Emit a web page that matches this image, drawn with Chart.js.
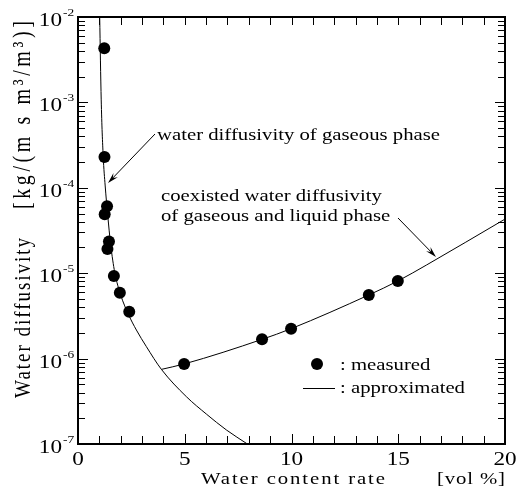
<!DOCTYPE html>
<html>
<head>
<meta charset="utf-8">
<script src="https://cdn.jsdelivr.net/npm/chart.js@4.4.1/dist/chart.umd.min.js"></script>
<style>
  html, body { margin: 0; padding: 0; background: #fff; }
  canvas { display: block; }
</style>
</head>
<body>
<canvas id="chart" width="517" height="495"></canvas>
<script>
// measured points
var measuredX = [1.23, 1.24, 1.36, 1.25, 1.45, 1.38, 1.68, 1.96, 2.40, 4.97, 8.62, 9.98, 13.62, 14.98];
var measuredY = [4.3e-3, 2.3e-4, 6.1e-5, 4.9e-5, 2.35e-5, 1.92e-5, 9.3e-6, 5.9e-6, 3.54e-6, 8.65e-7, 1.68e-6, 2.24e-6, 5.56e-6, 8.1e-6];

// approximated curve, water diffusivity of gaseous phase
var gasX = [1.016, 1.087, 1.18, 1.274, 1.391, 1.532, 1.719, 2.0, 2.375, 2.735, 3.204, 3.906, 5.077, 6.014, 6.951, 7.934];
var gasY = [1e-2, 1.07e-3, 2.35e-4, 1.05e-4, 4.81e-5, 2.14e-5, 1.03e-5, 5.56e-6, 3.24e-6, 2.16e-6, 1.38e-6, 7.48e-7, 3.58e-7, 2.24e-7, 1.46e-7, 1e-7];

// approximated curve, coexisted (gaseous + liquid)
var coexX = [3.91, 4.97, 8.62, 9.98, 13.62, 14.98, 16.33, 20];
var coexY = [7.48e-7, 8.65e-7, 1.68e-6, 2.24e-6, 5.56e-6, 8.1e-6, 1.25e-5, 4.3e-5];

var xTickLabels = [0, 5, 10, 15, 20];
var yDecades = [-7, -6, -5, -4, -3, -2];

var FONT = '"Liberation Serif", "Times New Roman", serif';
var SX = 1.22; // the figure's text is a bit wider than plain Times

function pts(xs, ys) {
  return xs.map(function(x, i){ return { x: x, y: ys[i] }; });
}

// draws text, stretched sideways; fitW spreads letters to a given length
function drawText(ctx, s, x, y, size, align, fitW, rotated) {
  ctx.save();
  ctx.font = size + 'px ' + FONT;
  ctx.fillStyle = '#000';
  ctx.textAlign = 'left';
  ctx.textBaseline = 'alphabetic';
  var sLen = rotated ? 1 : SX;
  var w0 = ctx.measureText(s).width;
  var ls = 0;
  if (fitW) ls = (fitW / sLen - w0) / Math.max(1, s.length - 1);
  var w = (w0 + ls * (s.length - 1)) * sLen;
  var off = align === 'center' ? -w / 2 : (align === 'right' ? -w : 0);
  ctx.translate(x, y);
  if (rotated) { ctx.rotate(-Math.PI / 2); ctx.scale(1, SX); }
  else ctx.scale(SX, 1);
  ctx.letterSpacing = ls + 'px';
  ctx.fillText(s, off / sLen, 0);
  ctx.restore();
}

function arrow(ctx, x1, y1, x2, y2) {
  var a = Math.atan2(y2 - y1, x2 - x1);
  var L = 11, W = 3;
  ctx.save();
  ctx.strokeStyle = '#000';
  ctx.fillStyle = '#000';
  ctx.lineWidth = 1;
  ctx.beginPath();
  ctx.moveTo(x1, y1);
  ctx.lineTo(x2 - Math.cos(a) * 6, y2 - Math.sin(a) * 6);
  ctx.stroke();
  ctx.beginPath();
  ctx.moveTo(x2, y2);
  ctx.lineTo(x2 - L * Math.cos(a) + W * Math.sin(a), y2 - L * Math.sin(a) - W * Math.cos(a));
  ctx.lineTo(x2 - 7 * Math.cos(a), y2 - 7 * Math.sin(a));
  ctx.lineTo(x2 - L * Math.cos(a) - W * Math.sin(a), y2 - L * Math.sin(a) + W * Math.cos(a));
  ctx.closePath();
  ctx.fill();
  ctx.restore();
}

var framePlugin = {
  id: 'frame',
  afterDraw: function(chart) {
    var ctx = chart.ctx;
    var a = chart.chartArea;
    var xs = chart.scales.x, ys = chart.scales.y;
    ctx.save();
    ctx.strokeStyle = '#000';
    ctx.lineWidth = 1;

    // x ticks, inside, top and bottom
    ctx.beginPath();
    for (var i = 1; i < 20; i++) {
      var px = Math.round(xs.getPixelForValue(i)) + 0.5;
      var len = (i % 5 === 0) ? 10 : 8;
      ctx.moveTo(px, a.bottom); ctx.lineTo(px, a.bottom - len);
      ctx.moveTo(px, a.top); ctx.lineTo(px, a.top + 8);
    }
    // y ticks, log, inside, left and right
    for (var d = -7; d <= -2; d++) {
      for (var m = 1; m <= 9; m++) {
        if (d === -2 && m > 1) break;
        var py = Math.round(ys.getPixelForValue(m * Math.pow(10, d))) + 0.5;
        var l = (m === 1) ? 10 : 7;
        ctx.moveTo(a.left, py); ctx.lineTo(a.left + l, py);
        ctx.moveTo(a.right, py); ctx.lineTo(a.right - l, py);
      }
    }
    ctx.stroke();

    // frame
    ctx.lineWidth = 2;
    ctx.strokeRect(a.left, a.top, a.right - a.left, a.bottom - a.top);
    ctx.restore();

    // tick labels
    xTickLabels.forEach(function(v){
      drawText(ctx, String(v), xs.getPixelForValue(v), a.bottom + 21, 19, 'center');
    });
    yDecades.forEach(function(d){
      var py = ys.getPixelForValue(Math.pow(10, d));
      drawText(ctx, '10', 62, py + 9, 19, 'right');
      drawText(ctx, '-' + (-d), 63, py - 1, 11, 'left');
    });

    // axis titles
    drawText(ctx, 'Water content rate', 201, 484, 17, 'left', 184);
    drawText(ctx, '[vol %]', 437, 484, 17, 'left', 68);
    drawText(ctx, 'Water diffusivity', 30, 398, 19, 'left', 160, true);
    drawText(ctx, '[kg/(m s m\u00b3/m\u00b3)]', 30, 209, 20, 'left', 188, true);

    // annotations
    drawText(ctx, 'water diffusivity of gaseous phase', 157, 140, 17, 'left');
    drawText(ctx, 'coexisted water diffusivity', 161, 201, 17, 'left');
    drawText(ctx, 'of gaseous and liquid phase', 161, 221, 17, 'left');
    arrow(ctx, 155, 134, 108, 183);
    arrow(ctx, 398, 218, 436, 257);

    // legend
    ctx.save();
    ctx.fillStyle = '#000';
    ctx.beginPath();
    ctx.arc(317, 364, 6, 0, Math.PI * 2);
    ctx.fill();
    ctx.strokeStyle = '#000';
    ctx.lineWidth = 1;
    ctx.beginPath();
    ctx.moveTo(303, 388.5); ctx.lineTo(335, 388.5);
    ctx.stroke();
    ctx.restore();
    drawText(ctx, ': measured', 340, 370, 17, 'left');
    drawText(ctx, ': approximated', 340, 393, 17, 'left');
  }
};

new Chart(document.getElementById('chart'), {
  type: 'scatter',
  data: {
    datasets: [
      {
        label: 'gaseous',
        data: pts(gasX, gasY),
        showLine: true,
        pointRadius: 0,
        borderColor: '#000',
        borderWidth: 1,
        cubicInterpolationMode: 'monotone'
      },
      {
        label: 'coexisted',
        data: pts(coexX, coexY),
        showLine: true,
        pointRadius: 0,
        borderColor: '#000',
        borderWidth: 1,
        cubicInterpolationMode: 'monotone'
      },
      {
        label: 'measured',
        data: pts(measuredX, measuredY),
        showLine: false,
        pointRadius: 6,
        pointBackgroundColor: '#000',
        pointBorderColor: '#000',
        pointBorderWidth: 0
      }
    ]
  },
  options: {
    responsive: false,
    animation: false,
    layout: { padding: { left: 78, top: 17, right: 12, bottom: 51 } },
    plugins: { legend: { display: false }, tooltip: { enabled: false } },
    scales: {
      x: { type: 'linear', min: 0, max: 20, display: false },
      y: { type: 'logarithmic', min: 1e-7, max: 1e-2, display: false }
    }
  },
  plugins: [framePlugin]
});
</script>
</body>
</html>
